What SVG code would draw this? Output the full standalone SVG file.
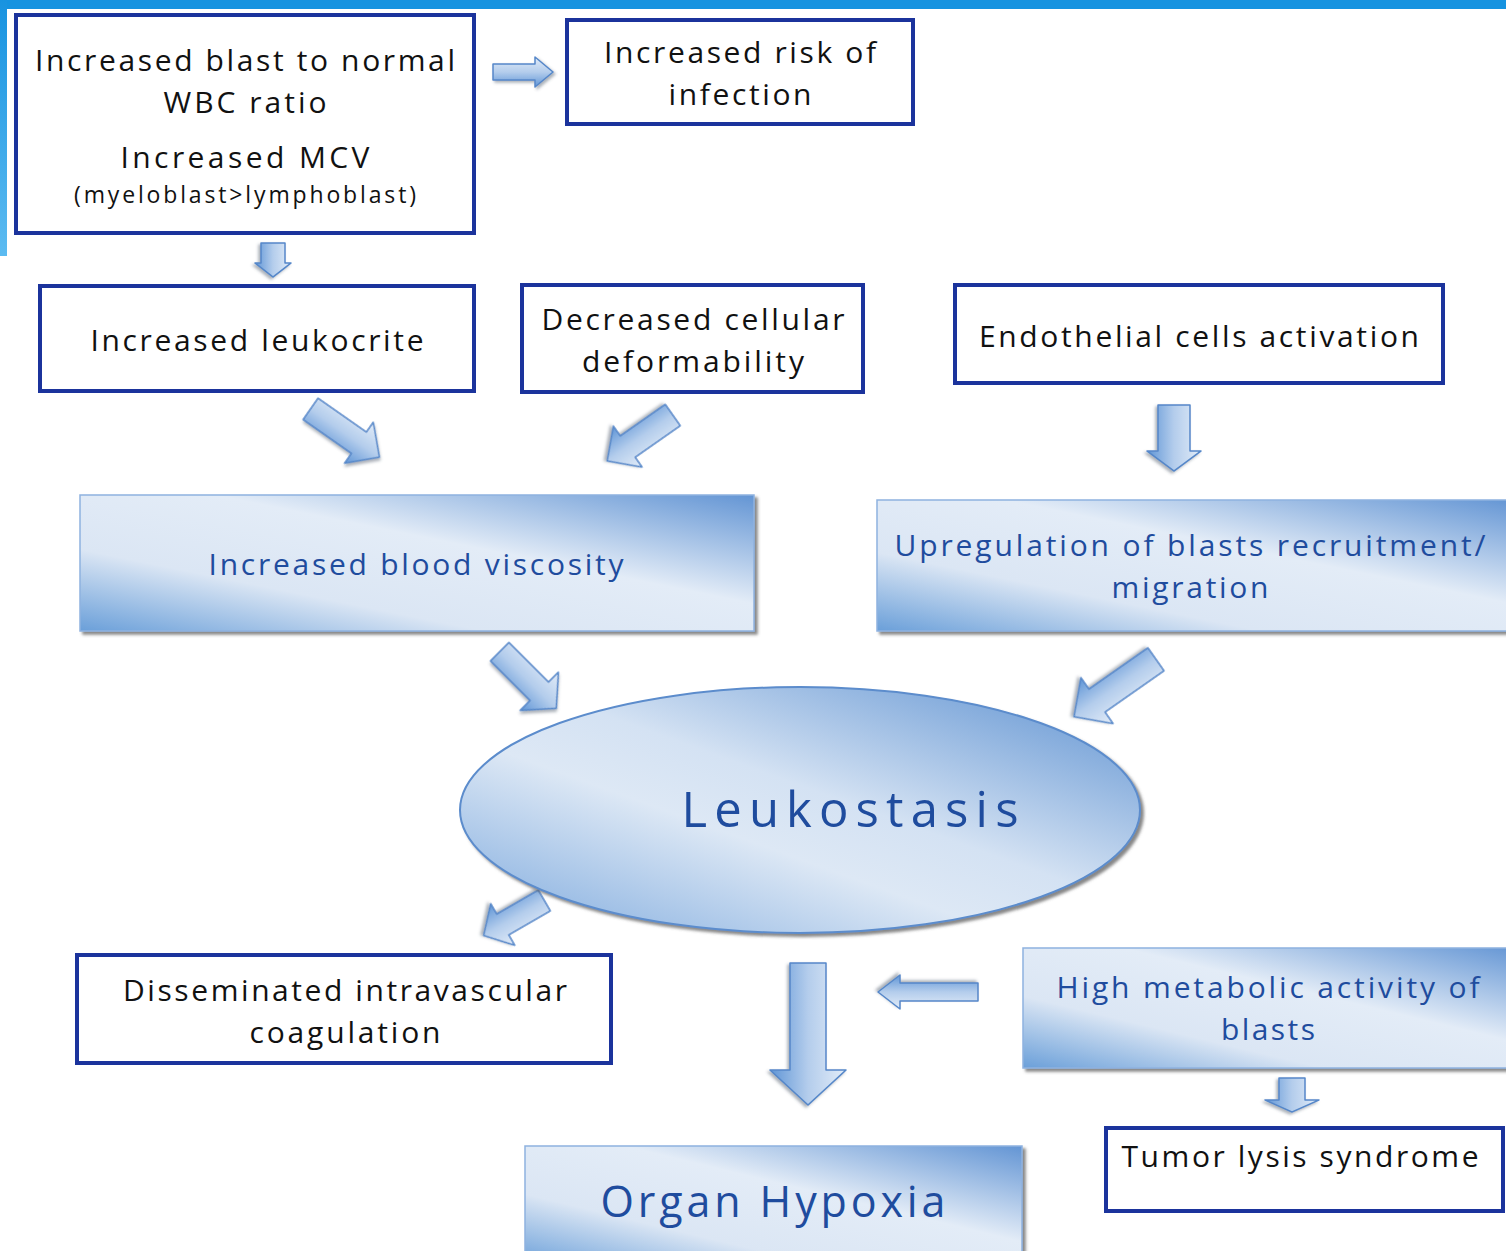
<svg xmlns="http://www.w3.org/2000/svg" width="1506" height="1251" viewBox="0 0 1506 1251">
<defs>
<linearGradient id="gBox" x1="0" y1="1" x2="1" y2="0">
<stop offset="0" stop-color="#6a9fd9"/>
<stop offset="0.3" stop-color="#dbe6f4"/>
<stop offset="0.6" stop-color="#e3ecf7"/>
<stop offset="1" stop-color="#6395d4"/>
</linearGradient>
<linearGradient id="gEll" x1="0" y1="1" x2="1" y2="0">
<stop offset="0" stop-color="#7ba8dd"/>
<stop offset="0.4" stop-color="#dde8f5"/>
<stop offset="0.55" stop-color="#d4e2f3"/>
<stop offset="1" stop-color="#5a8fd0"/>
</linearGradient>
<linearGradient id="gArr" x1="0" y1="0" x2="0" y2="1">
<stop offset="0" stop-color="#e2ecf8"/>
<stop offset="0.5" stop-color="#b4cdec"/>
<stop offset="1" stop-color="#5f95d6"/>
</linearGradient>
<linearGradient id="gBar" x1="0" y1="0" x2="0" y2="1">
<stop offset="0" stop-color="#1893e0"/>
<stop offset="1" stop-color="#5cbbf1"/>
</linearGradient>
<filter id="sh" x="-10%" y="-10%" width="120%" height="130%">
<feDropShadow dx="3" dy="3" stdDeviation="1.5" flood-color="#555" flood-opacity="0.7"/>
</filter>
<filter id="ash" x="-20%" y="-20%" width="140%" height="140%">
<feDropShadow dx="2" dy="2" stdDeviation="1.5" flood-color="#456" flood-opacity="0.45"/>
</filter>
</defs>
<style>
.wb{fill:#ffffff;stroke:#1b339c;stroke-width:4}
.gb{fill:url(#gBox);stroke:#8fb2df;stroke-width:1.5;filter:url(#sh)}
.t{font-family:"Open Sans","DejaVu Sans",sans-serif;font-size:30px;fill:#111;text-anchor:middle}
.s{font-size:23px}
.b{fill:#1f4c9e}
.arr{fill:url(#gArr);stroke:#5587c9;stroke-width:1.5;stroke-linejoin:round;filter:url(#ash)}
</style>
<rect width="1506" height="1251" fill="#ffffff"/>
<rect x="0" y="0" width="1506" height="9" fill="#1693e0"/>
<rect x="0" y="0" width="7" height="256" fill="url(#gBar)"/>

<g id="connectors">
<polygon class="arr" transform="translate(523,72) rotate(0)" points="-30,-8 12,-8 12,-15 30,0 12,15 12,8 -30,8"/>
<polygon class="arr" transform="translate(273,260) rotate(90)" points="-17,-12 3,-12 3,-18 17,0 3,18 3,12 -17,12"/>
<polygon class="arr" transform="translate(345,433) rotate(35)" points="-42,-13 17,-13 17,-25 42,0 17,25 17,13 -42,13"/>
<polygon class="arr" transform="translate(640,438) rotate(145)" points="-40,-13 15,-13 15,-25 40,0 15,25 15,13 -40,13"/>
<polygon class="arr" transform="translate(1174,438) rotate(90)" points="-33,-16 13,-16 13,-27 33,0 13,27 13,16 -33,16"/>
<polygon class="arr" transform="translate(528,680) rotate(45)" points="-40,-13 16,-13 16,-27 40,0 16,27 16,13 -40,13"/>
<polygon class="arr" transform="translate(1115,688) rotate(145)" points="-50,-14 22,-14 22,-28 50,0 22,28 22,14 -50,14"/>
<polygon class="arr" transform="translate(514,918) rotate(150)" points="-35,-12 13,-12 13,-24 35,0 13,24 13,12 -35,12"/>
<polygon class="arr" transform="translate(808,1034) rotate(90)" points="-71,-18 36,-18 36,-38 71,0 36,38 36,18 -71,18"/>
<polygon class="arr" transform="translate(928,992) rotate(180)" points="-50,-9 28,-9 28,-17 50,0 28,17 28,9 -50,9"/>
<polygon class="arr" transform="translate(1292,1095) rotate(90)" points="-17,-13 5,-13 5,-27 17,0 5,27 5,13 -17,13"/>
</g>

<g id="node-blast">
<rect class="wb" x="16" y="15" width="458" height="218"/>
<text class="t" x="245" y="71" textLength="420">Increased blast to normal</text>
<text class="t" x="245" y="113" textLength="163">WBC ratio</text>
<text class="t" x="245" y="168" textLength="249">Increased MCV</text>
<text class="t s" x="245" y="203" textLength="342">(myeloblast&gt;lymphoblast)</text>
</g>
<g id="node-infection">
<rect class="wb" x="567" y="20" width="346" height="104"/>
<text class="t" x="740" y="63" textLength="272">Increased risk of</text>
<text class="t" x="740" y="105" textLength="143">infection</text>
</g>
<g id="node-leukocrite">
<rect class="wb" x="40" y="286" width="434" height="105"/>
<text class="t" x="257" y="351" textLength="333">Increased leukocrite</text>
</g>
<g id="node-deform">
<rect class="wb" x="522" y="285" width="341" height="107"/>
<text class="t" x="693" y="330" textLength="303">Decreased cellular</text>
<text class="t" x="693" y="372" textLength="222">deformability</text>
</g>
<g id="node-endothelial">
<rect class="wb" x="955" y="285" width="488" height="98"/>
<text class="t" x="1199" y="347" textLength="440">Endothelial cells activation</text>
</g>
<g id="node-viscosity">
<rect class="gb" x="80" y="495" width="674" height="136"/>
<text class="t b" x="416" y="575" textLength="415">Increased blood viscosity</text>
</g>
<g id="node-upregulation">
<rect class="gb" x="877" y="500" width="640" height="131"/>
<text class="t b" x="1190" y="556" textLength="591">Upregulation of blasts recruitment/</text>
<text class="t b" x="1190" y="598" textLength="157">migration</text>
</g>
<g id="node-leukostasis">
<ellipse cx="800" cy="810" rx="340" ry="123" fill="url(#gEll)" stroke="#5b8ccc" stroke-width="2" filter="url(#sh)"/>
<text class="t b" x="850" y="827" style="font-size:49px" textLength="337">Leukostasis</text>
</g>
<g id="node-dic">
<rect class="wb" x="77" y="955" width="534" height="108"/>
<text class="t" x="345" y="1001" textLength="444">Disseminated intravascular</text>
<text class="t" x="345" y="1043" textLength="191">coagulation</text>
</g>
<g id="node-metabolic">
<rect class="gb" x="1023" y="948" width="500" height="120"/>
<text class="t b" x="1268" y="998" textLength="423">High metabolic activity of</text>
<text class="t b" x="1268" y="1040" textLength="94">blasts</text>
</g>
<g id="node-tumor">
<rect class="wb" x="1106" y="1128" width="397" height="83"/>
<text class="t" x="1300" y="1167" textLength="357">Tumor lysis syndrome</text>
</g>
<g id="node-hypoxia">
<rect class="gb" x="525" y="1146" width="497" height="120"/>
<text class="t b" x="773" y="1217" style="font-size:43px" textLength="345">Organ Hypoxia</text>
</g>
</svg>
